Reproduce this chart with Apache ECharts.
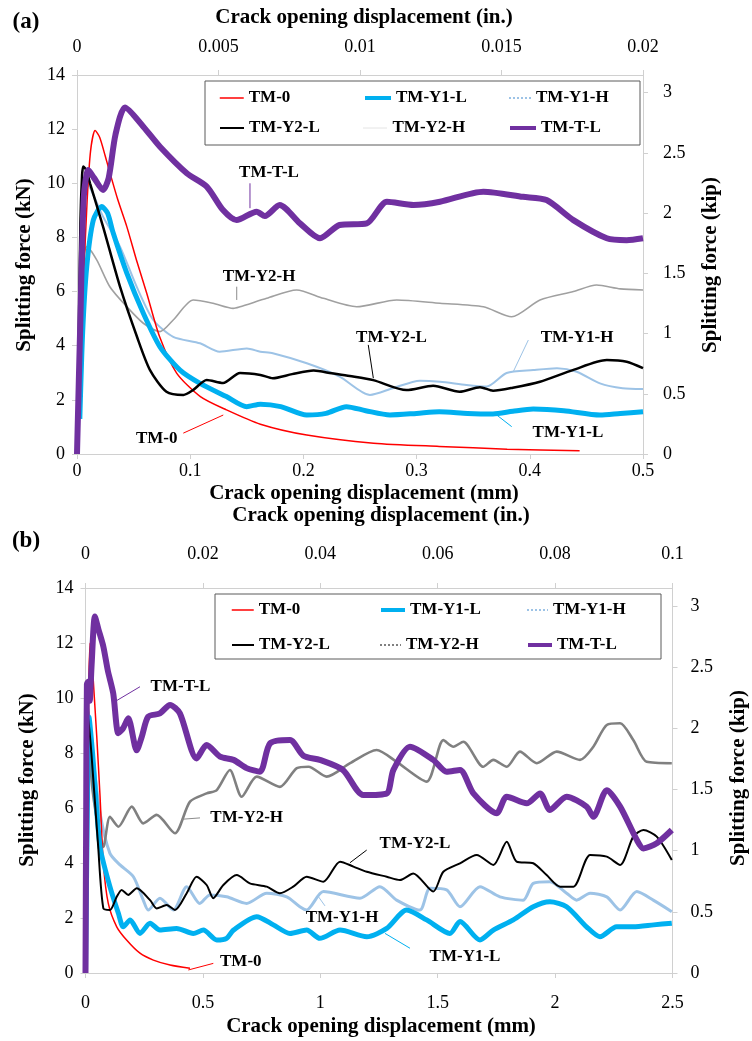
<!DOCTYPE html>
<html>
<head>
<meta charset="utf-8">
<script src="https://cdn.jsdelivr.net/npm/echarts@6/dist/echarts.min.js"></script>
<style>
  html, body { margin: 0; padding: 0; background: #fff; }
  #chart { width: 752px; height: 1041px; }
</style>
</head>
<body>
<div id="chart"></div>
<script>
// Splitting force vs crack opening displacement, panel (a) 0-0.5 mm, panel (b) 0-2.5 mm

const KN_PER_KIP = 4.44822;

// ---- Panel (a): [COD (mm), force (kN)] ----
const a_TM0 = [[0,0],[0.003,3.2],[0.006,6.6],[0.009,9.4],[0.012,11.2],[0.016,11.95],[0.02,11.7],[0.025,11.0],[0.029,10.4],[0.036,9.4],[0.044,8.4],[0.053,7.1],[0.0616,5.94],[0.073,4.33],[0.088,2.99],[0.109,2.12],[0.132,1.63],[0.162,1.1],[0.203,0.7],[0.262,0.4],[0.32,0.28],[0.38,0.18],[0.444,0.12]];
const a_Y1L = [[0.0025,1.3],[0.005,4.5],[0.0086,6.92],[0.0144,8.64],[0.0218,9.14],[0.027,8.9],[0.032,8.16],[0.044,6.68],[0.0586,5.2],[0.0733,3.96],[0.091,3.1],[0.1087,2.61],[0.132,2.12],[0.15,1.75],[0.162,1.84],[0.18,1.75],[0.203,1.44],[0.22,1.5],[0.238,1.75],[0.255,1.6],[0.2765,1.44],[0.3,1.5],[0.32,1.56],[0.345,1.5],[0.3675,1.48],[0.385,1.58],[0.403,1.66],[0.43,1.6],[0.462,1.44],[0.48,1.5],[0.5,1.56]];
const a_Y1H = [[0,0],[0.002,5],[0.004,8.8],[0.007,10.1],[0.012,9.8],[0.023,8.77],[0.038,7.66],[0.0527,6.18],[0.0674,4.95],[0.085,4.33],[0.1087,4.09],[0.126,3.78],[0.15,3.9],[0.162,3.78],[0.173,3.72],[0.203,3.35],[0.232,2.86],[0.2588,2.18],[0.279,2.43],[0.303,2.71],[0.3207,2.67],[0.344,2.55],[0.362,2.49],[0.3795,2.99],[0.403,3.1],[0.424,3.17],[0.4414,3.04],[0.462,2.61],[0.482,2.43],[0.5,2.4]];
const a_Y2L = [[0,0],[0.0015,4],[0.003,8.5],[0.0045,10.3],[0.0056,10.62],[0.008,10.5],[0.0115,10.0],[0.023,8.4],[0.038,6.18],[0.053,4.33],[0.0645,3.1],[0.079,2.3],[0.094,2.18],[0.1025,2.36],[0.1146,2.73],[0.129,2.62],[0.144,2.99],[0.162,2.92],[0.173,2.8],[0.19,2.95],[0.209,3.08],[0.225,2.98],[0.241,2.88],[0.2617,2.73],[0.291,2.36],[0.3146,2.52],[0.338,2.3],[0.356,2.47],[0.3675,2.34],[0.385,2.45],[0.409,2.67],[0.438,3.1],[0.468,3.47],[0.4856,3.41],[0.5,3.17]];
const a_Y2H = [[0,0],[0.003,5],[0.006,7.3],[0.0086,7.66],[0.0174,7.17],[0.029,6.18],[0.044,5.44],[0.0586,4.83],[0.0733,4.52],[0.085,4.95],[0.1027,5.69],[0.12,5.57],[0.138,5.38],[0.144,5.44],[0.1676,5.75],[0.194,6.06],[0.2176,5.75],[0.247,5.44],[0.2825,5.69],[0.3207,5.57],[0.359,5.44],[0.384,5.07],[0.409,5.69],[0.4385,6.0],[0.459,6.24],[0.48,6.1],[0.5,6.06]];
const a_TL  = [[0,0],[0.003,5],[0.006,9.5],[0.01,10.49],[0.015,10.2],[0.023,9.75],[0.028,10.2],[0.034,11.8],[0.0424,12.8],[0.0586,12.09],[0.0733,11.35],[0.097,10.37],[0.1146,9.88],[0.129,9.01],[0.141,8.64],[0.1587,8.95],[0.166,8.79],[0.179,9.2],[0.197,8.52],[0.2147,7.97],[0.232,8.46],[0.256,8.52],[0.2738,9.32],[0.2973,9.2],[0.3207,9.32],[0.359,9.69],[0.394,9.5],[0.4148,9.38],[0.4385,8.64],[0.468,7.97],[0.4856,7.9],[0.5,7.97]];

// ---- Panel (b): [COD (mm), force (kN)] ----
const b_TM0 = [[0,0],[0.006,5],[0.012,9.5],[0.019,11.99],[0.026,11.6],[0.033,10.65],[0.048,8.59],[0.062,6.41],[0.076,3.99],[0.097,2.53],[0.133,1.68],[0.175,1.2],[0.232,0.72],[0.289,0.47],[0.36,0.29],[0.445,0.17]];
const b_Y1L = [[0,0],[0.008,6],[0.015,9.3],[0.03,8.0],[0.062,4.59],[0.104,3.14],[0.14,2.17],[0.161,1.68],[0.19,1.93],[0.232,1.44],[0.275,1.81],[0.317,1.56],[0.388,1.62],[0.459,1.44],[0.502,1.56],[0.559,1.2],[0.601,1.26],[0.63,1.56],[0.729,2.05],[0.8,1.75],[0.871,1.44],[0.942,1.56],[0.998,1.26],[1.084,1.56],[1.198,1.32],[1.283,1.62],[1.368,2.29],[1.453,1.93],[1.552,1.44],[1.595,1.87],[1.68,1.2],[1.737,1.56],[1.822,1.93],[1.907,2.41],[1.978,2.59],[2.049,2.41],[2.134,1.68],[2.191,1.32],[2.262,1.68],[2.333,1.68],[2.42,1.75],[2.497,1.81]];
const b_Y1H = [[0,0],[0.006,7],[0.012,9.5],[0.03,8.0],[0.062,5.81],[0.104,4.35],[0.147,3.93],[0.204,3.5],[0.246,2.65],[0.267,2.29],[0.317,2.72],[0.374,2.29],[0.431,3.14],[0.487,2.53],[0.53,2.84],[0.601,2.77],[0.686,2.53],[0.772,2.9],[0.857,2.77],[0.913,2.41],[0.942,2.29],[1.013,2.96],[1.169,2.72],[1.254,3.14],[1.325,2.65],[1.424,2.29],[1.467,3.08],[1.538,3.02],[1.595,2.41],[1.68,3.14],[1.765,2.77],[1.864,2.65],[1.907,3.26],[1.978,3.32],[2.049,2.9],[2.092,2.65],[2.149,2.9],[2.22,2.77],[2.277,2.29],[2.348,2.96],[2.418,2.65],[2.497,2.23]];
const b_Y2L = [[0,0],[0.005,7],[0.01,9.4],[0.025,8.0],[0.054,4.59],[0.076,2.35],[0.104,2.29],[0.133,2.77],[0.154,3.02],[0.182,2.84],[0.218,3.08],[0.275,2.65],[0.303,2.35],[0.346,2.47],[0.381,2.29],[0.431,2.9],[0.473,3.5],[0.516,3.2],[0.544,2.72],[0.587,3.2],[0.644,3.56],[0.7,3.26],[0.772,3.14],[0.828,2.9],[0.885,3.14],[0.942,3.5],[1.013,3.32],[1.084,4.05],[1.141,3.87],[1.198,3.68],[1.283,3.5],[1.339,3.38],[1.396,3.62],[1.481,2.96],[1.524,3.68],[1.595,3.99],[1.666,4.29],[1.737,3.93],[1.794,4.77],[1.836,4.05],[1.907,3.99],[1.964,3.56],[2.021,3.14],[2.078,3.14],[2.149,4.29],[2.22,4.23],[2.277,3.93],[2.333,4.96],[2.376,5.2],[2.433,4.96],[2.497,4.11]];
const b_Y2H = [[0,0],[0.005,7],[0.01,9.7],[0.026,7.0],[0.05,5.5],[0.076,4.59],[0.104,5.68],[0.14,5.32],[0.197,6.05],[0.246,5.44],[0.303,5.75],[0.381,5.08],[0.445,6.23],[0.516,6.53],[0.559,6.65],[0.615,7.38],[0.665,6.41],[0.729,7.14],[0.828,6.77],[0.9,7.45],[0.95,7.5],[1.027,7.14],[1.127,7.63],[1.24,8.11],[1.325,7.68],[1.453,6.96],[1.524,8.47],[1.567,8.23],[1.609,8.41],[1.694,7.5],[1.737,7.75],[1.794,7.5],[1.85,8.05],[1.922,7.63],[2.007,8.05],[2.106,7.75],[2.163,8.23],[2.22,9.02],[2.277,9.08],[2.333,8.47],[2.39,7.68],[2.497,7.63]];
const b_TL  = [[0,0],[0.003,6],[0.006,10.5],[0.012,10.6],[0.018,9.9],[0.026,11.2],[0.04,12.96],[0.055,12.5],[0.076,11.87],[0.095,11.0],[0.118,10.17],[0.14,8.72],[0.16,8.9],[0.182,9.26],[0.218,8.1],[0.24,8.6],[0.267,9.32],[0.317,9.44],[0.36,9.75],[0.402,9.44],[0.473,7.8],[0.516,8.29],[0.573,7.87],[0.63,7.75],[0.686,7.45],[0.743,7.32],[0.786,8.35],[0.871,8.47],[0.928,7.9],[0.998,7.75],[1.097,7.38],[1.183,6.47],[1.283,6.53],[1.311,7.38],[1.382,8.23],[1.481,7.75],[1.538,7.32],[1.595,7.38],[1.652,6.53],[1.751,5.81],[1.794,6.41],[1.879,6.17],[1.936,6.53],[1.978,5.93],[2.049,6.41],[2.134,6.05],[2.163,5.68],[2.22,6.65],[2.277,6.05],[2.348,4.84],[2.376,4.53],[2.433,4.72],[2.497,5.2]];

// ---- Axis ticks ----
const kNTicks = [0, 2, 4, 6, 8, 10, 12, 14];
const kipTicks = [0, 0.5, 1, 1.5, 2, 2.5, 3];
const mmTicksA = [0, 0.1, 0.2, 0.3, 0.4, 0.5];
const inTicksA = [0, 0.005, 0.01, 0.015, 0.02];
const mmTicksB = [0, 0.5, 1, 1.5, 2, 2.5];
const inTicksB = [0, 0.02, 0.04, 0.06, 0.08, 0.1];

// ---- Callout labels: [text, label centre (mm, kN), leader start, leader end] ----
const notesA = [
  ['TM-T-L',  [0.1696, 10.38], [0.1528, 10.0], [0.1528, 9.08]],
  ['TM-Y2-H', [0.1608, 6.54],  [0.1411, 6.18], [0.1411, 5.69]],
  ['TM-Y2-L', [0.2778, 4.29],  [0.2573, 4.03], [0.2618, 2.8]],
  ['TM-Y1-H', [0.4417, 4.29],  [0.3987, 4.21], [0.3854, 3.04]],
  ['TM-Y1-L', [0.4337, 0.78],  [0.384, 1.01],  [0.3708, 1.44]],
  ['TM-0',    [0.0704, 0.58],  [0.0939, 0.77], [0.1292, 1.44]]
];
const notesB = [
  ['TM-T-L',  [0.4046, 10.4], [0.2321, 10.41], [0.1256, 9.87]],
  ['TM-Y2-H', [0.6865, 5.64], [0.4877, 5.64],  [0.4097, 5.59]],
  ['TM-0',    [0.6614, 0.41], [0.5443, 0.35],  [0.4378, 0.11]],
  ['TM-Y2-L', [1.4033, 4.72], [1.1976, 4.47],  [1.1265, 4.01]],
  ['TM-Y1-L', [1.6163, 0.59], [1.382, 0.9],    [1.2756, 1.44]],
  ['TM-Y1-H', [1.0924, 2.0],  [1.02, 2.44],    [0.99, 2.8]]
];

const SERIF = '"Liberation Serif", "Times New Roman", serif';
const AXIS_GREY = '#d0d0d0';

const colors = {
  'TM-0': '#ff0000', 'TM-Y1-L': '#00b0f0', 'TM-Y1-H': '#9dc3e6',
  'TM-Y2-L': '#000000', 'TM-Y2-H': '#8c8c8c', 'TM-T-L': '#7030a0'
};

const gridA = { left: 77, top: 75, width: 566, height: 379 };
const gridB = { left: 85.5, top: 588, width: 587, height: 385 };

function valAxis(extra) {
  return Object.assign({
    type: 'value',
    splitLine: { show: false },
    axisLine: { show: true, onZero: false, lineStyle: { color: AXIS_GREY, width: 1 } },
    axisTick: { show: true, inside: false, length: 5, lineStyle: { color: AXIS_GREY } },
    axisLabel: { color: '#000', fontFamily: SERIF, fontSize: 18 }
  }, extra);
}

function xAxes(gi, mmTicks, inTicks, topMargin, bottomMargin) {
  const mmMax = mmTicks[mmTicks.length - 1], inMax = inTicks[inTicks.length - 1];
  return [
    valAxis({ gridIndex: gi, position: 'bottom', min: 0, max: mmMax, interval: mmTicks[1],
      axisLabel: { color: '#000', fontFamily: SERIF, fontSize: 18, margin: bottomMargin } }),
    valAxis({ gridIndex: gi, position: 'top', min: 0, max: inMax, interval: inTicks[1],
      axisLabel: { color: '#000', fontFamily: SERIF, fontSize: 18, margin: topMargin } })
  ];
}

function yAxes(gi, leftMargin, rightMargin) {
  return [
    valAxis({ gridIndex: gi, position: 'left', min: 0, max: kNTicks[kNTicks.length - 1], interval: kNTicks[1],
      axisLabel: { color: '#000', fontFamily: SERIF, fontSize: 18, margin: leftMargin } }),
    valAxis({ gridIndex: gi, position: 'right', min: 0, max: kNTicks[kNTicks.length - 1] / KN_PER_KIP,
      axisTick: { show: true, length: 5, lineStyle: { color: AXIS_GREY }, customValues: kipTicks },
      axisLabel: { color: '#000', fontFamily: SERIF, fontSize: 18, margin: rightMargin, customValues: kipTicks } })
  ];
}

function line(name, data, xi, yi, width, color) {
  return {
    name, type: 'line', data, xAxisIndex: xi, yAxisIndex: yi,
    symbol: 'none', smooth: 0.25, animation: false,
    lineStyle: { color: color || colors[name], width },
    itemStyle: { color: color || colors[name] }
  };
}

const series = [
  line('TM-Y1-H', a_Y1H, 0, 0, 2),
  line('TM-Y2-H', a_Y2H, 0, 0, 1.6, '#a0a0a0'),
  line('TM-0',    a_TM0, 0, 0, 1.5),
  line('TM-Y1-L', a_Y1L, 0, 0, 5),
  line('TM-Y2-L', a_Y2L, 0, 0, 2.5),
  line('TM-T-L',  a_TL,  0, 0, 6),
  line('TM-Y1-H', b_Y1H, 2, 2, 3),
  line('TM-Y2-H', b_Y2H, 2, 2, 2.6, '#808080'),
  line('TM-0',    b_TM0, 2, 2, 1.5),
  line('TM-Y1-L', b_Y1L, 2, 2, 5),
  line('TM-Y2-L', b_Y2L, 2, 2, 2),
  line('TM-T-L',  b_TL,  2, 2, 6)
];

// one legend component per entry so the three columns line up like a table;
// the marker symbol is hidden so each key is a plain line sample
function legendEntry(name, left, rowY, ls) {
  return {
    data: [name], left, top: rowY - 9, padding: 0, itemGap: 0,
    itemWidth: ls.len, itemHeight: 14, selectedMode: false,
    itemStyle: { opacity: 0, borderWidth: 0 },
    lineStyle: { color: ls.color, width: ls.width, type: ls.type || 'solid', opacity: 1 },
    textStyle: { color: '#000', fontFamily: SERIF, fontSize: 17, fontWeight: 'bold', lineHeight: 18 }
  };
}

const legendStylesA = {
  'TM-0':    { color: '#ff0000', width: 1.5, len: 24 },
  'TM-Y1-L': { color: '#00b0f0', width: 4, len: 26 },
  'TM-Y1-H': { color: '#9dc3e6', width: 2, len: 22, type: 'dotted' },
  'TM-Y2-L': { color: '#000000', width: 2, len: 24 },
  'TM-Y2-H': { color: '#c8c8c8', width: 1, len: 24, type: 'dotted' },
  'TM-T-L':  { color: '#7030a0', width: 4, len: 26 }
};
const legendStylesB = {
  'TM-0':    { color: '#ff0000', width: 1.5, len: 22 },
  'TM-Y1-L': { color: '#00b0f0', width: 4, len: 24 },
  'TM-Y1-H': { color: '#9dc3e6', width: 2, len: 21, type: 'dotted' },
  'TM-Y2-L': { color: '#000000', width: 2, len: 22 },
  'TM-Y2-H': { color: '#808080', width: 2, len: 21, type: 'dotted' },
  'TM-T-L':  { color: '#7030a0', width: 4, len: 24 }
};

const legends = [
  legendEntry('TM-0',    219, 98,  legendStylesA['TM-0']),
  legendEntry('TM-Y1-L', 363, 98,  legendStylesA['TM-Y1-L']),
  legendEntry('TM-Y1-H', 508, 98,  legendStylesA['TM-Y1-H']),
  legendEntry('TM-Y2-L', 219, 128, legendStylesA['TM-Y2-L']),
  legendEntry('TM-Y2-H', 363, 128, legendStylesA['TM-Y2-H']),
  legendEntry('TM-T-L',  508, 128, legendStylesA['TM-T-L']),
  legendEntry('TM-0',    231, 610, legendStylesB['TM-0']),
  legendEntry('TM-Y1-L', 379, 610, legendStylesB['TM-Y1-L']),
  legendEntry('TM-Y1-H', 526, 610, legendStylesB['TM-Y1-H']),
  legendEntry('TM-Y2-L', 231, 645, legendStylesB['TM-Y2-L']),
  legendEntry('TM-Y2-H', 379, 645, legendStylesB['TM-Y2-H']),
  legendEntry('TM-T-L',  526, 645, legendStylesB['TM-T-L'])
];

const chart = echarts.init(document.getElementById('chart'), null, { renderer: 'canvas' });
chart.setOption({
  backgroundColor: '#fff',
  animation: false,
  grid: [gridA, gridB],
  xAxis: [].concat(xAxes(0, mmTicksA, inTicksA, 19, 8), xAxes(1, mmTicksB, inTicksB, 25, 21)),
  yAxis: [].concat(yAxes(0, 12, 20), yAxes(1, 12, 18)),
  legend: legends,
  series
});

// titles, legend frames and callouts
const titleFont = 'bold 21px ' + SERIF;
const noteFont = 'bold 17px ' + SERIF;

function text(str, x, y, font, rot) {
  return { type: 'text', x, y, rotation: rot || 0, z: 10, silent: true,
    style: { text: str, x: 0, y: 0, font, fill: '#000', align: 'center', verticalAlign: 'middle' } };
}

const graphics = [
  text('(a)', 26, 22, 'bold 23px ' + SERIF),
  text('(b)', 26, 541, 'bold 23px ' + SERIF),
  text('Crack opening displacement (in.)', 364, 18, titleFont),
  text('Crack opening displacement (mm)', 364, 494, titleFont),
  text('Crack opening displacement (in.)', 381, 516, titleFont),
  text('Crack opening displacement (mm)', 381, 1027, titleFont),
  text('Splitting force (kN)', 25, 265, titleFont, Math.PI / 2),
  text('Splitting force (kip)', 711, 265, titleFont, Math.PI / 2),
  text('Splitting force (kN)', 28, 780, titleFont, Math.PI / 2),
  text('Splitting force (kip)', 739, 778, titleFont, Math.PI / 2),
  { type: 'rect', z: 3, silent: true, shape: { x: 205, y: 81, width: 435, height: 64 },
    style: { fill: '#fff', stroke: '#5a5a5a', lineWidth: 1 } },
  { type: 'rect', z: 3, silent: true, shape: { x: 215, y: 594, width: 446, height: 65 },
    style: { fill: '#fff', stroke: '#5a5a5a', lineWidth: 1 } }
];

function addNotes(notes, xi, yi) {
  notes.forEach(([label, pos, from, to]) => {
    const p = chart.convertToPixel({ xAxisIndex: xi, yAxisIndex: yi }, pos);
    const s = chart.convertToPixel({ xAxisIndex: xi, yAxisIndex: yi }, from);
    const e = chart.convertToPixel({ xAxisIndex: xi, yAxisIndex: yi }, to);
    graphics.push({ type: 'line', z: 9, silent: true,
      shape: { x1: s[0], y1: s[1], x2: e[0], y2: e[1] },
      style: { stroke: colors[label], lineWidth: 1 } });
    graphics.push(text(label, p[0], p[1], noteFont));
  });
}
addNotes(notesA, 0, 0);
addNotes(notesB, 2, 2);

chart.setOption({ graphic: graphics });
</script>
</body>
</html>
